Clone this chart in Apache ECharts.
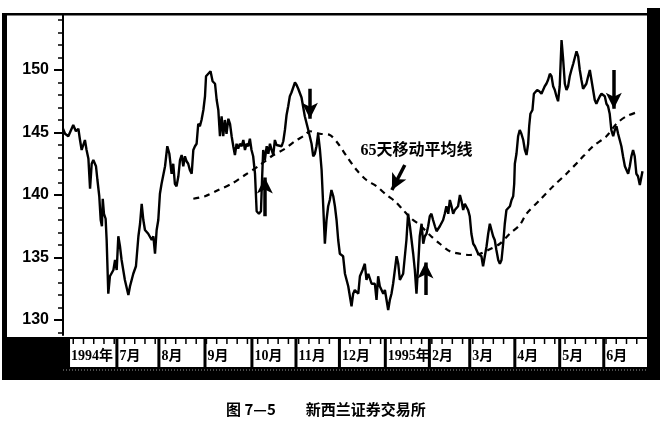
<!DOCTYPE html>
<html><head><meta charset="utf-8">
<script src="https://cdn.jsdelivr.net/npm/echarts@6/dist/echarts.min.js"></script>
<style>html,body{margin:0;padding:0;background:#fff}#c{width:663px;height:425px}</style>
</head><body><div id="c"></div><script>
// trading-day index (x) and closing level (y)
var priceDays = [
0,1.0,2.6,5.0,6.3,7.5,8.3,9.1,10.7,11.5,
12.4,13.2,14.0,14.8,16.1,16.8,17.7,18.4,19.0,19.4,
20.0,20.8,21.3,22.1,22.9,24.6,25.4,26.2,27.0,27.8,
28.6,30.2,31.9,32.7,34.3,35.6,36.8,37.6,38.4,39.2,
40.0,41.6,43.3,44.1,44.9,45.7,46.5,47.3,48.1,49.8,
50.9,51.9,53.0,53.8,54.6,55.4,56.3,57.1,57.9,58.7,
59.5,60.3,61.1,61.9,62.8,63.6,64.4,65.2,66.0,66.8,
67.6,68.5,69.3,69.8,70.9,72.0,73.0,74.2,75.0,75.8,
76.6,77.4,78.2,79.0,79.8,80.7,81.5,82.3,83.1,83.9,
84.7,85.5,86.3,87.2,88.0,88.8,89.6,90.4,91.2,92.0,
92.8,93.7,94.5,95.6,96.6,97.2,97.7,98.5,99.4,100.2,
101.0,101.8,102.6,103.4,104.2,105.0,106.7,107.5,108.3,109.1,
109.9,110.7,111.5,113.2,114.0,114.8,116.4,118.0,119.7,121.3,
122.1,122.9,123.7,124.5,125.4,126.2,127.0,127.8,128.6,129.4,
130.2,131.0,131.9,132.7,133.5,134.3,135.1,136.7,137.6,139.2,
140.8,141.6,142.4,144.1,144.9,146.2,147.3,148.1,149.0,149.8,
150.6,152.2,153.0,153.8,154.6,156.3,157.1,158.7,159.5,160.3,
161.1,162.8,163.6,164.4,166.0,167.6,168.4,169.3,170.1,170.9,
171.7,172.5,173.3,174.1,175.0,175.8,176.6,177.4,178.2,179.0,
179.8,180.6,181.5,182.3,183.1,183.9,185.5,186.3,187.1,188.0,
188.8,189.6,190.4,191.2,192.8,193.7,194.5,195.3,196.1,196.9,
197.7,198.5,199.3,200.2,201.0,201.8,202.6,203.4,204.2,205.0,
206.7,207.5,208.3,209.1,209.9,210.7,211.5,212.4,213.2,214.0,
214.8,215.6,216.4,218.1,218.9,219.7,220.2,220.5,221.3,222.1,
222.9,223.7,224.6,225.4,226.2,227.0,227.5,228.1,229.1,229.8,
230.7,231.4,232.4,233.5,234.3,235.1,235.9,236.7,237.6,238.4,
239.2,240.0,240.8,241.6,242.4,243.3,244.1,244.9,245.7,246.5,
247.3,248.1,249.0,250.6,251.4,252.2,253.0,253.8,254.6,255.4,
256.3,257.1,257.9,258.7,259.5,260.3,261.1,262.0,262.8,263.6,
264.4,265.2,266.0,266.8,267.6,268.5,269.3,270.1,270.9,271.7,
272.5,273.3,274.2,275.0,275.8,276.6,277.4,278.2,279.0,279.8,
280.6,281.5,282.8
];
var priceValues = [
145.3,144.9,144.7,145.6,145.1,145.3,144.4,143.6,144.4,143.6,
142.9,140.5,142.5,142.8,142.3,141.2,139.9,138.0,137.5,139.7,
138.5,138.1,136.4,132.1,133.5,134.0,134.8,134.0,136.7,135.9,
134.8,133.2,132.0,132.7,133.7,134.3,136.7,137.7,139.3,138.0,
137.2,136.9,136.4,136.7,135.3,137.2,138.0,140.1,140.9,142.3,
143.9,143.3,141.7,142.5,140.9,140.7,141.5,142.8,143.2,142.3,
143.1,142.7,142.5,142.0,141.7,143.6,143.9,144.1,145.7,145.5,
146.0,146.8,147.9,149.5,149.7,149.9,149.1,148.9,147.6,146.8,
144.7,146.3,144.7,146.0,144.9,146.1,145.7,144.7,143.9,143.2,
144.1,143.7,144.1,143.9,144.4,143.6,144.1,143.9,144.5,143.6,
143.1,141.7,138.7,138.5,138.7,141.5,143.6,142.8,143.9,143.3,
144.1,143.6,143.2,144.4,144.0,144.1,143.9,144.3,145.2,146.4,
147.1,147.9,148.2,149.0,148.8,148.5,147.8,146.3,145.2,144.1,
143.1,143.3,143.9,144.9,143.6,142.0,139.1,136.1,138.0,139.1,
139.6,140.4,139.9,139.1,138.0,136.4,135.3,135.1,133.7,132.7,
131.1,132.1,132.4,132.1,133.5,134.0,134.5,133.2,133.7,133.7,
132.9,132.9,131.6,133.5,132.7,132.1,132.4,130.8,131.6,132.1,
132.9,135.1,134.5,133.2,133.7,136.4,138.5,137.5,136.4,135.3,
134.0,132.1,134.3,136.7,137.7,136.1,136.7,136.9,137.5,138.3,
138.5,138.0,137.5,137.1,137.2,137.5,138.0,138.5,139.1,138.5,
139.6,139.1,138.5,138.8,139.1,140.0,139.5,138.8,139.3,139.3,
138.8,138.3,136.9,136.1,135.9,135.6,135.3,135.3,135.1,134.3,
135.9,136.9,137.7,137.2,136.7,136.4,135.6,134.8,134.5,134.8,
136.1,137.7,138.8,139.1,139.6,139.9,140.9,142.5,143.3,144.7,
145.2,144.9,144.4,143.6,143.2,144.1,145.5,146.5,146.8,148.1,
148.1,148.4,148.3,148.1,148.4,148.7,148.9,149.2,149.7,149.5,
148.7,148.4,147.9,147.5,148.7,152.4,150.8,148.9,148.4,148.7,
149.5,150.0,150.5,151.5,151.1,150.0,149.2,148.5,148.4,148.9,
149.5,150.0,149.2,148.4,147.6,147.3,147.6,147.9,148.1,148.1,
147.9,147.3,147.1,146.5,145.2,144.7,145.2,145.5,144.9,144.4,
143.9,143.1,142.3,142.0,141.7,142.3,143.1,143.6,143.1,141.7,
141.5,140.8,141.9
];
// 65-day moving average
var maDays = [63.6,69.3,75.8,82.3,88.8,95.3,101.8,108.3,113.2,118.1,120.5,125.4,130.2,134.3,138.4,143.3,148.1,153.0,157.9,162.0,166.0,170.1,174.1,179.0,183.9,188.8,193.7,198.5,203.4,207.5,213.2,218.0,222.9,226.2,232.7,239.2,245.7,252.2,258.7,265.2,270.1,275.0,281.5];
var maValues = [139.7,139.9,140.4,140.9,141.6,142.3,143.1,143.7,144.3,144.8,145.1,144.9,144.8,144.1,143.1,142.0,141.2,140.7,140.0,139.5,138.8,138.1,137.6,136.8,136.1,135.5,135.3,135.2,135.3,135.6,136.1,136.9,137.6,138.5,139.6,140.7,141.7,142.8,143.9,144.7,145.7,146.3,146.7];
// month boxes on the time axis
var monthLabels = ['1994年','7月','8月','9月','10月','11月','12月','1995年','2月','3月','4月','5月','6月'];
var monthEdges = [2.7,26.3,46.8,69.3,92.2,113.7,134.9,157.3,178.8,198.5,220.5,242.4,263.9,285.9];
var weekStep = 5;
// y ticks
var yLabels = [130,135,140,145,150];
var yMinor = [129,131,132,133,134,136,137,138,139,141,142,143,144,146,147,148,149,151,152,153,154];
// signal arrows (day, from, to)
var arrowDays = [98.5,120.5,176.9,268.8];
var arrowFrom = [138.3,148.5,132.0,150.0];
var arrowTo   = [141.4,146.1,134.6,146.9];
var noteText = '65天移动平均线';
var noteAt = [172.5,143.5];
var noteArrowFrom = [166.8,142.4];
var noteArrowTo = [160.5,140.4];

var chart = echarts.init(document.getElementById('c'));
var priceData = priceDays.map(function(d,i){return [d, priceValues[i]];});
var maData = maDays.map(function(d,i){return [d, maValues[i]];});
var boxData = monthLabels.map(function(m,i){return [monthEdges[i], monthEdges[i+1]];});
var arrowLines = arrowDays.map(function(d,i){return [{coord:[d, arrowFrom[i]]},{coord:[d, arrowTo[i]]}];});
arrowLines.push([{coord:noteArrowFrom},{coord:noteArrowTo}]);

var YMIN = 128.8, YMAX = 154.4, XMAX = 285;
chart.setOption({
  animation:false,
  backgroundColor:'#fff',
  title:{text:'图 7—5　　新西兰证券交易所', left:221, top:397,
    textStyle:{fontSize:15, fontWeight:'bold', color:'#000', fontFamily:'"Noto Sans CJK SC"'}},
  grid:[
    {left:63, right:16, top:15, bottom:90, show:false},
    {left:63, right:16, top:339, height:28, show:false}
  ],
  xAxis:[
    {gridIndex:0, type:'value', min:0, max:XMAX, show:false},
    {gridIndex:1, type:'value', min:0, max:XMAX, show:false}
  ],
  yAxis:[
    {gridIndex:0, type:'value', min:YMIN, max:YMAX, position:'left',
      axisLine:{show:true, lineStyle:{color:'#000', width:2}},
      axisTick:{show:true, length:9, customValues:yLabels, lineStyle:{color:'#000', width:2}},
      axisLabel:{show:true, customValues:yLabels, margin:14, color:'#000', fontSize:16, fontWeight:'bold', fontFamily:'"Liberation Sans"'},
      splitLine:{show:false}},
    {gridIndex:1, type:'value', min:0, max:1, show:false},
    {gridIndex:0, type:'value', min:YMIN, max:YMAX, position:'left', offset:0,
      axisLine:{show:false},
      axisTick:{show:true, length:5, customValues:yMinor, lineStyle:{color:'#000', width:1.5}},
      axisLabel:{show:false}, splitLine:{show:false}}
  ],
  graphic:[
    {type:'rect', z:0, shape:{x:5, y:337, width:655, height:43}, style:{fill:'#000'}},
    {type:'line', z:1, shape:{x1:63, y1:370, x2:647, y2:370}, style:{stroke:'#9a9a9a', lineWidth:1, lineDash:[1,2]}},
    {type:'rect', z:100, shape:{x:2, y:13, width:5, height:367}, style:{fill:'#000'}},
    {type:'rect', z:100, shape:{x:2, y:13, width:658, height:2.5}, style:{fill:'#000'}},
    {type:'rect', z:100, shape:{x:647, y:8, width:13, height:372}, style:{fill:'#000'}}
  ],
  series:[
    {type:'line', name:'price', xAxisIndex:0, yAxisIndex:0, data:priceData, showSymbol:false, symbol:'none',
      lineStyle:{color:'#000', width:2.4}, silent:true},
    {type:'line', name:'ma65', xAxisIndex:0, yAxisIndex:0, data:maData, showSymbol:false, symbol:'none', smooth:0.3,
      lineStyle:{color:'#000', width:2.2, type:[6,5]}, silent:true,
      markLine:{silent:true, symbol:['none','arrow'], symbolSize:[12,16], label:{show:false},
        lineStyle:{color:'#000', width:3.5, type:'solid'}, data:arrowLines},
      markPoint:{silent:true, symbol:'rect', symbolSize:1, itemStyle:{color:'rgba(0,0,0,0)'},
        label:{show:true, position:'inside', formatter:noteText, color:'#000', fontSize:16, fontWeight:'bold',
          fontFamily:'"Liberation Serif","Noto Sans CJK SC"'},
        data:[{coord:noteAt}]}},
    {type:'custom', xAxisIndex:1, yAxisIndex:1, data:boxData, clip:false, silent:true,
      renderItem:function(params, api){
        var s = api.value(0), e = api.value(1);
        var a = api.coord([s, 1]);
        var b = api.coord([e, 0]);
        var kids = [
          {type:'rect', shape:{x:a[0]+1.5, y:a[1], width:b[0]-a[0]-3, height:b[1]-a[1]}, style:{fill:'#fff'}}
        ];
        for (var d = Math.ceil(s / weekStep) * weekStep; d < e - 1; d += weekStep) {
          var p = api.coord([d, 1]);
          kids.push({type:'line', shape:{x1:p[0], y1:a[1], x2:p[0], y2:a[1]+5}, style:{stroke:'#000', lineWidth:1.5}});
        }
        kids.push({type:'text', z2:10, x:a[0]+2.5, y:(a[1]+b[1])/2+3,
            style:{text:monthLabels[params.dataIndex], fill:'#000', textAlign:'left', verticalAlign:'middle',
              font:'bold 14px "Liberation Serif","Noto Sans CJK SC"'}});
        return {type:'group', children:kids};
      }}
  ]
});
</script></body></html>
